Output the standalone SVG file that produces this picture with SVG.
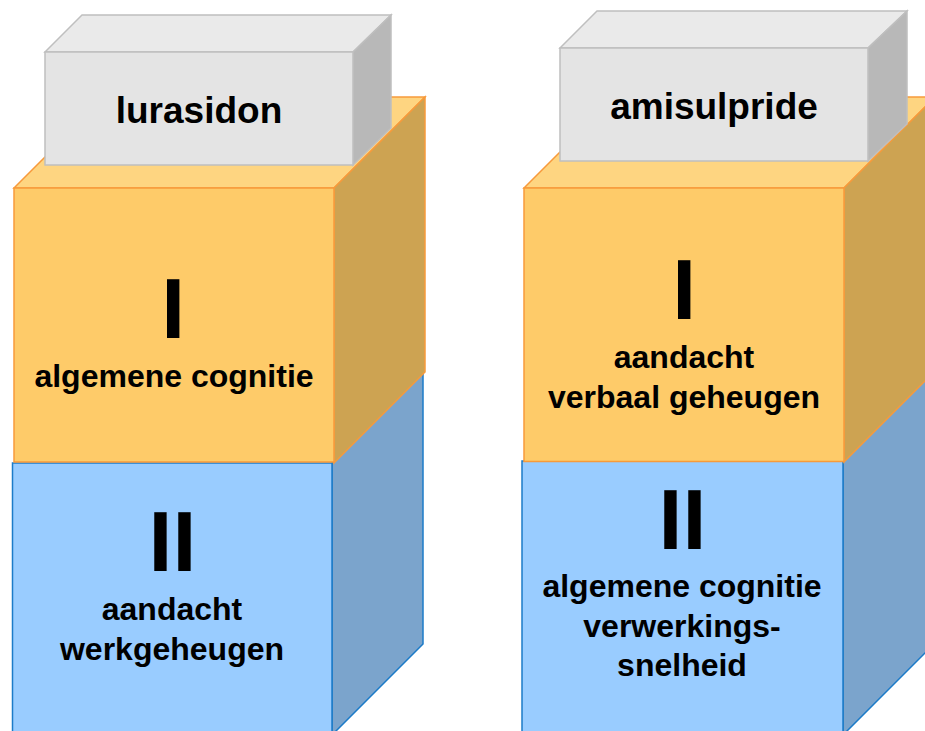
<svg xmlns="http://www.w3.org/2000/svg" width="925" height="731" viewBox="0 0 925 731">
<style>
.bf{fill:#99CCFF;stroke:#1C7BC8;stroke-width:1.5}
.br{fill:#7BA4CC;stroke:#1C7BC8;stroke-width:1.5}
.of{fill:#FECB69;stroke:#F79A3B;stroke-width:1.5}
.ot{fill:#FED581;stroke:#F79A3B;stroke-width:1.5}
.or{fill:#CDA352;stroke:#F79A3B;stroke-width:1.5}
.gf{fill:#E4E4E4;stroke:#BFBFBF;stroke-width:1.5}
.gt{fill:#EAEAEA;stroke:#BFBFBF;stroke-width:1.5}
.gr{fill:#B8B8B8;stroke:#BFBFBF;stroke-width:1.5}
text{font-family:"Liberation Sans",Arial,sans-serif;font-weight:bold;fill:#000;text-anchor:middle}
.t{font-size:32px}
.h{font-size:37px}
.n{font-size:86px}
</style>
<rect width="925" height="731" fill="#FFFFFF"/>
<g id="blue-left">
<polygon class="br" points="332,463 423,372 423,644 332,735"/>
<rect class="bf" x="12.5" y="463" width="319.5" height="272"/>
<text class="n" x="172.5" y="571">II</text>
<text class="t" x="172" y="620">aandacht</text>
<text class="t" x="172" y="660">werkgeheugen</text>
</g>
<g id="orange-left">
<polygon class="ot" points="14,188 105,97 425,97 334,188"/>
<polygon class="or" points="334,188 425,97 425,372 334,463"/>
<rect class="of" x="14" y="188" width="320" height="274"/>
<text class="n" x="173.3" y="338">I</text>
<text class="t" x="174" y="387">algemene cognitie</text>
</g>
<g id="lurasidon">
<polygon class="gt" points="45,52 82,15 391,15 353,52"/>
<polygon class="gr" points="353,52 391,15 391,128 353,165"/>
<rect class="gf" x="45" y="52" width="308" height="113"/>
<text class="h" x="199" y="123">lurasidon</text>
</g>
<g id="blue-right">
<polygon class="br" points="843,461 934,370 934,644 843,735"/>
<rect class="bf" x="522" y="461" width="321" height="274"/>
<text class="n" x="682.5" y="549">II</text>
<text class="t" x="682" y="597">algemene cognitie</text>
<text class="t" x="682" y="637">verwerkings-</text>
<text class="t" x="682" y="676">snelheid</text>
</g>
<g id="orange-right">
<polygon class="ot" points="524,188 615,97 935,97 844,188"/>
<polygon class="or" points="844,188 935,97 935,371 844,462"/>
<rect class="of" x="524" y="188" width="320" height="273.5"/>
<text class="n" x="684.3" y="319">I</text>
<text class="t" x="684" y="368">aandacht</text>
<text class="t" x="684" y="408">verbaal geheugen</text>
</g>
<g id="amisulpride">
<polygon class="gt" points="560,48 597,11 907,11 868,48"/>
<polygon class="gr" points="868,48 907,11 907,124 868,161"/>
<rect class="gf" x="560" y="48" width="308" height="113"/>
<text class="h" x="714" y="119">amisulpride</text>
</g>
<g id="connectors"/>
</svg>
